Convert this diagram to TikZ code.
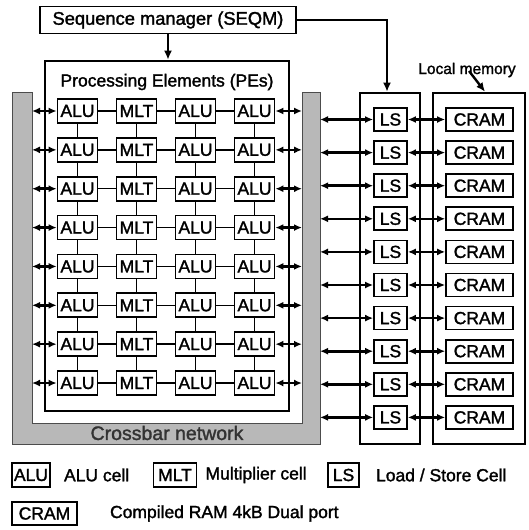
\documentclass[tikz,border=0pt]{standalone}
\usepackage{fontspec}
\setmainfont{Liberation Sans}[BoldFont={Liberation Sans}, BoldFeatures={FakeBold=1.6}]
\usetikzlibrary{positioning,arrows.meta}
\tikzset{
  cellbox/.style={draw, line width=1.7pt, fill=white, inner sep=0pt, minimum height=24pt, font=\fontsize{17.5}{20}\selectfont\bfseries},
  pecell/.style={cellbox, minimum width=40pt},
  lscell/.style={cellbox, minimum width=33pt, minimum height=23pt},
  ramcell/.style={cellbox, minimum width=67pt, minimum height=23pt},
  frame/.style={draw, line width=2.6pt, inner sep=0pt},
  link/.style={line width=1.5pt},
  flowarrow/.style={-{Latex[length=9pt,width=8pt]}, line width=2.4pt},
  duplex/.style={{Latex[length=8pt,width=7pt]}-{Latex[length=8pt,width=7pt]}, line width=2.6pt},
  crossbar/.style={fill=black!28, draw=black!70, line width=0.6pt},
  label/.style={font=\fontsize{17.5}{20}\selectfont\bfseries, inner sep=1pt}
}

\begin{document}
\begin{tikzpicture}[x=1pt, y=-1pt]
  \useasboundingbox (0,0) rectangle (528,530);
  % crossbar network (U shape)
  \path[crossbar] (12,92) -- (32,92) -- (32,423) -- (302,423) -- (302,92)
    -- (320,92) -- (320,444) -- (12,444) -- cycle;
  \node[label, font=\fontsize{19.5}{22}\selectfont\bfseries, text=black!80] (xbar) at (167,433) {Crossbar network};

  % frames
  \node[cellbox, minimum width=256pt, minimum height=27pt, font=\fontsize{18.3}{22}\selectfont\bfseries] (seqm) at (168,20) {Sequence manager (SEQM)};
  \node[frame, minimum width=244pt, minimum height=350pt] (pe) at (167,236) {};
  \node[frame, minimum width=60pt, minimum height=351pt] (lsframe) at (390,268.5) {};
  \node[frame, minimum width=92pt, minimum height=351pt] (ramframe) at (479,268.5) {};
  \node[label] (petitle) at (167,82) {Processing Elements (PEs)};
  \node[label, font=\fontsize{15.5}{18}\selectfont\bfseries] (lmtitle) at (467,70) {Local memory};

  \draw[flowarrow] (seqm.south) -- (seqm.south |- pe.north);
  \draw[flowarrow] (seqm.east) -| ([xshift=-3pt]lsframe.north);
  \draw[flowarrow] ([xshift=2pt,yshift=-1pt]lmtitle.center) -- ([xshift=6pt]ramframe.north);

  % PE array
  \foreach \r in {1,...,8} {
    \pgfmathsetmacro\yy{111+38.86*(\r-1)}
    \node[pecell] (c\r-1) at (77.5,\yy) {ALU};
    \node[pecell] (c\r-2) at (136.5,\yy) {MLT};
    \node[pecell] (c\r-3) at (195.5,\yy) {ALU};
    \node[pecell] (c\r-4) at (254.5,\yy) {ALU};
    \draw[link] (c\r-1) -- (c\r-2);
    \draw[link] (c\r-2) -- (c\r-3);
    \draw[link] (c\r-3) -- (c\r-4);
    \coordinate (xl\r) at (32,\yy);
    \coordinate (xr\r) at (302,\yy);
    \draw[duplex] (xl\r) -- (c\r-1.west);
    \draw[duplex] (c\r-4.east) -- (xr\r);
  }
  \foreach \r in {1,...,7} {
    \pgfmathtruncatemacro\nx{\r+1}
    \foreach \c in {1,...,4}
      \draw[link] (c\r-\c.south) -- (c\nx-\c.north);
  }

  % load/store cells and local memory
  \foreach \i in {1,...,10} {
    \pgfmathsetmacro\yy{119.5+33.1*(\i-1)}
    \node[lscell] (ls\i) at (390.5,\yy) {LS};
    \node[ramcell] (ram\i) at (479.5,\yy) {CRAM};
    \coordinate (xo\i) at (320,\yy);
    \draw[duplex] (xo\i) -- (ls\i.west);
    \draw[duplex] (ls\i.east) -- (ram\i.west);
  }

  % legend
  \node[cellbox, minimum width=38pt] (keyalu) at (31,475) {ALU};
  \node[label, right=12pt of keyalu] (txtalu) {ALU cell};
  \node[cellbox, minimum width=43pt] (keymlt) at (175,475) {MLT};
  \node[label, right=7pt of keymlt] (txtmlt) {Multiplier cell};
  \node[cellbox, minimum width=31pt] (keyls) at (343.5,475) {LS};
  \node[label, right=15pt of keyls] (txtls) {Load / Store Cell};
  \node[cellbox, minimum width=65pt, minimum height=23pt] (keyram) at (44.5,513.5) {CRAM};
  \node[label, right=31pt of keyram] (txtram) {Compiled RAM 4kB Dual port};
\end{tikzpicture}
\end{document}
